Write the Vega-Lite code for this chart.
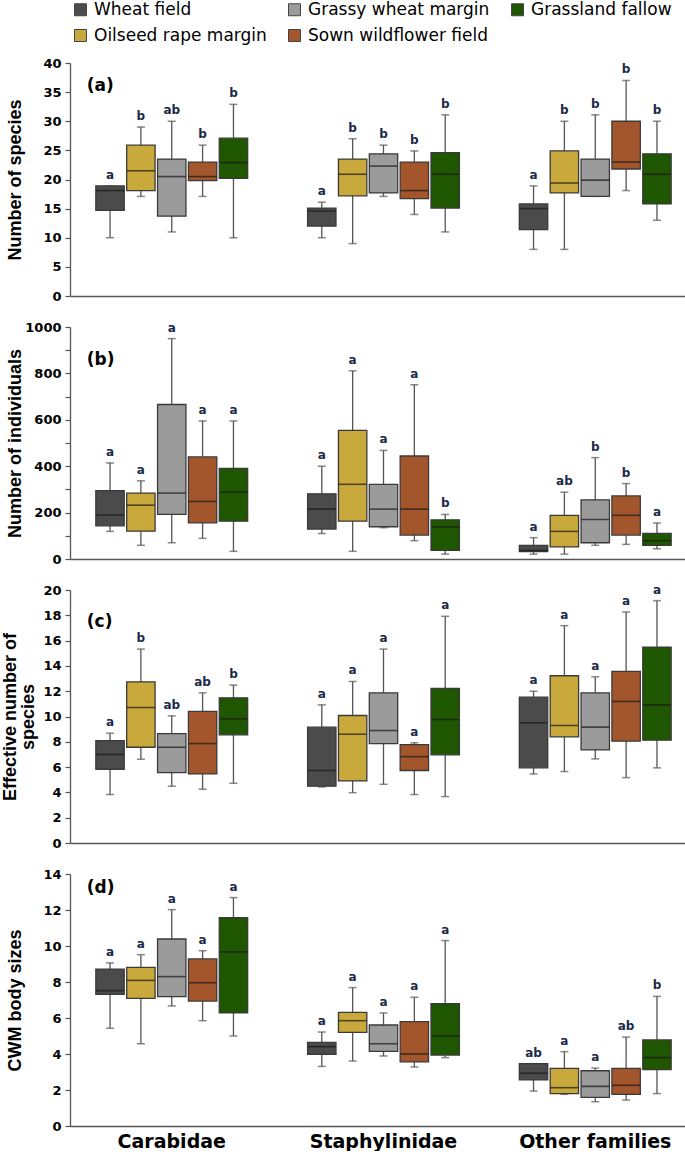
{
"$schema": "https://vega.github.io/schema/vega-lite/v6.json",
"padding": {"top": 1, "left": 0, "right": 0, "bottom": 0},
"autosize": {"type": "pad"},
"spacing": 31,
"bounds": "flush",
"resolve": {"legend": {"color": "independent"}},
"datasets": {
"boxes": [
{"panel":"a","family":"Carabidae","habitat":"Wheat field","lo":10,"q1":14.7,"med":18.1,"q3":18.9,"hi":18.9,"sig":"a"},
{"panel":"a","family":"Carabidae","habitat":"Oilseed rape margin","lo":17.1,"q1":18.1,"med":21.5,"q3":25.9,"hi":29,"sig":"b"},
{"panel":"a","family":"Carabidae","habitat":"Grassy wheat margin","lo":11,"q1":13.7,"med":20.5,"q3":23.5,"hi":30,"sig":"ab"},
{"panel":"a","family":"Carabidae","habitat":"Sown wildflower field","lo":17.1,"q1":19.8,"med":20.5,"q3":23,"hi":25.9,"sig":"b"},
{"panel":"a","family":"Carabidae","habitat":"Grassland fallow","lo":10,"q1":20.2,"med":22.9,"q3":27.1,"hi":32.9,"sig":"b"},
{"panel":"a","family":"Staphylinidae","habitat":"Wheat field","lo":10,"q1":12,"med":14.6,"q3":15.1,"hi":16.1,"sig":"a"},
{"panel":"a","family":"Staphylinidae","habitat":"Oilseed rape margin","lo":9,"q1":17.2,"med":20.9,"q3":23.5,"hi":27,"sig":"b"},
{"panel":"a","family":"Staphylinidae","habitat":"Grassy wheat margin","lo":17.1,"q1":17.7,"med":22.3,"q3":24.4,"hi":25.9,"sig":"b"},
{"panel":"a","family":"Staphylinidae","habitat":"Sown wildflower field","lo":14,"q1":16.7,"med":18.1,"q3":23,"hi":24.9,"sig":"b"},
{"panel":"a","family":"Staphylinidae","habitat":"Grassland fallow","lo":11,"q1":15.1,"med":20.9,"q3":24.6,"hi":31.1,"sig":"b"},
{"panel":"a","family":"Other families","habitat":"Wheat field","lo":8,"q1":11.4,"med":15,"q3":15.8,"hi":18.9,"sig":"a"},
{"panel":"a","family":"Other families","habitat":"Oilseed rape margin","lo":8,"q1":17.7,"med":19.4,"q3":24.9,"hi":30,"sig":"b"},
{"panel":"a","family":"Other families","habitat":"Grassy wheat margin","lo":17.1,"q1":17.1,"med":19.9,"q3":23.5,"hi":31.1,"sig":"b"},
{"panel":"a","family":"Other families","habitat":"Sown wildflower field","lo":18.1,"q1":21.8,"med":23,"q3":30,"hi":37,"sig":"b"},
{"panel":"a","family":"Other families","habitat":"Grassland fallow","lo":13,"q1":15.8,"med":20.9,"q3":24.4,"hi":30,"sig":"b"},
{"panel":"b","family":"Carabidae","habitat":"Wheat field","lo":119,"q1":143,"med":189,"q3":295,"hi":414,"sig":"a"},
{"panel":"b","family":"Carabidae","habitat":"Oilseed rape margin","lo":59,"q1":120,"med":232,"q3":284,"hi":337,"sig":"a"},
{"panel":"b","family":"Carabidae","habitat":"Grassy wheat margin","lo":70,"q1":192,"med":284,"q3":666,"hi":950,"sig":"a"},
{"panel":"b","family":"Carabidae","habitat":"Sown wildflower field","lo":89,"q1":156,"med":248,"q3":440,"hi":595,"sig":"a"},
{"panel":"b","family":"Carabidae","habitat":"Grassland fallow","lo":33,"q1":163,"med":288,"q3":391,"hi":595,"sig":"a"},
{"panel":"b","family":"Staphylinidae","habitat":"Wheat field","lo":110,"q1":129,"med":215,"q3":281,"hi":400,"sig":"a"},
{"panel":"b","family":"Staphylinidae","habitat":"Oilseed rape margin","lo":33,"q1":163,"med":322,"q3":554,"hi":811,"sig":"a"},
{"panel":"b","family":"Staphylinidae","habitat":"Grassy wheat margin","lo":135,"q1":139,"med":215,"q3":322,"hi":468,"sig":"a"},
{"panel":"b","family":"Staphylinidae","habitat":"Sown wildflower field","lo":79,"q1":103,"med":215,"q3":444,"hi":751,"sig":"a"},
{"panel":"b","family":"Staphylinidae","habitat":"Grassland fallow","lo":21,"q1":37,"med":138,"q3":169,"hi":192,"sig":"b"},
{"panel":"b","family":"Other families","habitat":"Wheat field","lo":21,"q1":32,"med":37,"q3":59,"hi":92,"sig":"a"},
{"panel":"b","family":"Other families","habitat":"Oilseed rape margin","lo":21,"q1":52,"med":119,"q3":188,"hi":288,"sig":"ab"},
{"panel":"b","family":"Other families","habitat":"Grassy wheat margin","lo":59,"q1":70,"med":170,"q3":255,"hi":437,"sig":"b"},
{"panel":"b","family":"Other families","habitat":"Sown wildflower field","lo":63,"q1":103,"med":188,"q3":272,"hi":325,"sig":"b"},
{"panel":"b","family":"Other families","habitat":"Grassland fallow","lo":44,"q1":59,"med":79,"q3":110,"hi":155,"sig":"a"},
{"panel":"c","family":"Carabidae","habitat":"Wheat field","lo":3.83,"q1":5.83,"med":7.0,"q3":8.1,"hi":8.68,"sig":"a"},
{"panel":"c","family":"Carabidae","habitat":"Oilseed rape margin","lo":6.62,"q1":7.57,"med":10.71,"q3":12.74,"hi":15.33,"sig":"b"},
{"panel":"c","family":"Carabidae","habitat":"Grassy wheat margin","lo":4.49,"q1":5.57,"med":7.57,"q3":8.65,"hi":10.05,"sig":"ab"},
{"panel":"c","family":"Carabidae","habitat":"Sown wildflower field","lo":4.25,"q1":5.46,"med":7.86,"q3":10.4,"hi":11.87,"sig":"ab"},
{"panel":"c","family":"Carabidae","habitat":"Grassland fallow","lo":4.72,"q1":8.55,"med":9.82,"q3":11.48,"hi":12.48,"sig":"b"},
{"panel":"c","family":"Staphylinidae","habitat":"Wheat field","lo":4.43,"q1":4.49,"med":5.73,"q3":9.16,"hi":10.92,"sig":"a"},
{"panel":"c","family":"Staphylinidae","habitat":"Oilseed rape margin","lo":3.98,"q1":4.91,"med":8.6,"q3":10.08,"hi":12.77,"sig":"a"},
{"panel":"c","family":"Staphylinidae","habitat":"Grassy wheat margin","lo":4.64,"q1":7.86,"med":8.89,"q3":11.87,"hi":15.33,"sig":"a"},
{"panel":"c","family":"Staphylinidae","habitat":"Sown wildflower field","lo":3.83,"q1":5.73,"med":6.83,"q3":7.78,"hi":7.92,"sig":"a"},
{"panel":"c","family":"Staphylinidae","habitat":"Grassland fallow","lo":3.67,"q1":6.97,"med":9.76,"q3":12.22,"hi":17.92,"sig":"a"},
{"panel":"c","family":"Other families","habitat":"Wheat field","lo":5.46,"q1":5.94,"med":9.5,"q3":11.53,"hi":12.0,"sig":"a"},
{"panel":"c","family":"Other families","habitat":"Oilseed rape margin","lo":5.65,"q1":8.39,"med":9.29,"q3":13.22,"hi":17.18,"sig":"a"},
{"panel":"c","family":"Other families","habitat":"Grassy wheat margin","lo":6.65,"q1":7.36,"med":9.16,"q3":11.87,"hi":13.14,"sig":"a"},
{"panel":"c","family":"Other families","habitat":"Sown wildflower field","lo":5.17,"q1":8.05,"med":11.19,"q3":13.56,"hi":18.26,"sig":"a"},
{"panel":"c","family":"Other families","habitat":"Grassland fallow","lo":5.94,"q1":8.13,"med":10.92,"q3":15.49,"hi":19.16,"sig":"a"},
{"panel":"d","family":"Carabidae","habitat":"Wheat field","lo":5.43,"q1":7.31,"med":7.52,"q3":8.72,"hi":9.06,"sig":"a"},
{"panel":"d","family":"Carabidae","habitat":"Oilseed rape margin","lo":4.57,"q1":7.09,"med":8.09,"q3":8.81,"hi":9.52,"sig":"a"},
{"panel":"d","family":"Carabidae","habitat":"Grassy wheat margin","lo":6.67,"q1":7.19,"med":8.3,"q3":10.39,"hi":12.02,"sig":"a"},
{"panel":"d","family":"Carabidae","habitat":"Sown wildflower field","lo":5.85,"q1":6.94,"med":7.96,"q3":9.28,"hi":9.74,"sig":"a"},
{"panel":"d","family":"Carabidae","habitat":"Grassland fallow","lo":5.0,"q1":6.28,"med":9.67,"q3":11.57,"hi":12.69,"sig":"a"},
{"panel":"d","family":"Staphylinidae","habitat":"Wheat field","lo":3.31,"q1":3.98,"med":4.41,"q3":4.65,"hi":5.22,"sig":"a"},
{"panel":"d","family":"Staphylinidae","habitat":"Oilseed rape margin","lo":3.61,"q1":5.2,"med":5.85,"q3":6.31,"hi":7.69,"sig":"a"},
{"panel":"d","family":"Staphylinidae","habitat":"Grassy wheat margin","lo":3.89,"q1":4.15,"med":4.57,"q3":5.61,"hi":6.28,"sig":"a"},
{"panel":"d","family":"Staphylinidae","habitat":"Sown wildflower field","lo":3.28,"q1":3.56,"med":4.0,"q3":5.8,"hi":7.15,"sig":"a"},
{"panel":"d","family":"Staphylinidae","habitat":"Grassland fallow","lo":3.8,"q1":3.94,"med":5.0,"q3":6.8,"hi":10.3,"sig":"a"},
{"panel":"d","family":"Other families","habitat":"Wheat field","lo":1.94,"q1":2.56,"med":2.93,"q3":3.46,"hi":3.46,"sig":"ab"},
{"panel":"d","family":"Other families","habitat":"Oilseed rape margin","lo":1.76,"q1":1.8,"med":2.13,"q3":3.2,"hi":4.13,"sig":"a"},
{"panel":"d","family":"Other families","habitat":"Grassy wheat margin","lo":1.35,"q1":1.59,"med":2.2,"q3":3.07,"hi":3.22,"sig":"a"},
{"panel":"d","family":"Other families","habitat":"Sown wildflower field","lo":1.44,"q1":1.76,"med":2.26,"q3":3.2,"hi":4.94,"sig":"ab"},
{"panel":"d","family":"Other families","habitat":"Grassland fallow","lo":1.8,"q1":3.13,"med":3.8,"q3":4.78,"hi":7.2,"sig":"b"}
]
},
"vconcat": [
{
"width": 627, "height": 233,
"data": {"name": "boxes"},
"transform": [{"filter": "datum.panel === 'a'"}],
"encoding": {
"x": {"field": "family", "type": "nominal", "sort": ["Carabidae","Staphylinidae","Other families"], "scale": {"domain": ["Carabidae","Staphylinidae","Other families"], "paddingInner": 0.283, "paddingOuter": 0.122}, "axis": {"title": null, "labels": false, "ticks": false}},
"xOffset": {"field": "habitat", "type": "nominal", "scale": {"domain": ["Wheat field","Oilseed rape margin","Grassy wheat margin","Sown wildflower field","Grassland fallow"], "paddingInner": 0.08, "paddingOuter": 0}}
},
"layer": [
{"mark": {"type": "rule", "color": "#555", "strokeWidth": 1.3}, "encoding": {"y": {"field": "lo", "type": "quantitative", "scale": {"domain": [0,40], "nice": false}, "axis": {"title": "Number of species", "titleX": -46, "values": [0,5,10,15,20,25,30,35,40]}}, "y2": {"field": "hi"}}},
{"mark": {"type": "tick", "color": "#555", "size": 8, "thickness": 1.5}, "encoding": {"y": {"field": "hi", "type": "quantitative", "scale": {"domain": [0,40], "nice": false}, "axis": {"title": "Number of species", "titleX": -46, "values": [0,5,10,15,20,25,30,35,40]}}}},
{"mark": {"type": "tick", "color": "#555", "size": 8, "thickness": 1.5}, "encoding": {"y": {"field": "lo", "type": "quantitative", "scale": {"domain": [0,40], "nice": false}, "axis": {"title": "Number of species", "titleX": -46, "values": [0,5,10,15,20,25,30,35,40]}}}},
{"mark": {"type": "bar", "stroke": "#3a3a3a", "strokeWidth": 1.3}, "encoding": {"y": {"field": "q1", "type": "quantitative", "scale": {"domain": [0,40], "nice": false}, "axis": {"title": "Number of species", "titleX": -46, "values": [0,5,10,15,20,25,30,35,40]}}, "y2": {"field": "q3"},
 "color": {"field": "habitat", "type": "nominal", "scale": {"domain": ["Wheat field","Grassy wheat margin","Grassland fallow","Oilseed rape margin","Sown wildflower field"], "range": ["#4b4b4b","#9b9b9b","#1f5600","#c9a93b","#a3562c"]},
  "legend": {"orient": "none", "legendX": 2, "legendY": -62, "direction": "horizontal", "columns": 3, "title": null, "symbolType": "square", "symbolSize": 144, "symbolStrokeColor": "#444", "symbolStrokeWidth": 1, "symbolOpacity": 1, "labelFont": "DejaVu Sans", "labelFontSize": 17, "labelColor": "#000", "labelOffset": 5, "columnPadding": 19, "rowPadding": 8, "labelLimit": 300}}}},
{"mark": {"type": "tick", "color": "#1a1a1a", "size": 28, "thickness": 1.6}, "encoding": {"y": {"field": "med", "type": "quantitative", "scale": {"domain": [0,40], "nice": false}, "axis": {"title": "Number of species", "titleX": -46, "values": [0,5,10,15,20,25,30,35,40]}}}},
{"mark": {"type": "text", "baseline": "bottom", "dy": -4, "font": "DejaVu Sans", "fontWeight": "bold", "fontSize": 12, "color": "#1a2a48"}, "encoding": {"y": {"field": "hi", "type": "quantitative", "scale": {"domain": [0,40], "nice": false}, "axis": {"title": "Number of species", "titleX": -46, "values": [0,5,10,15,20,25,30,35,40]}}, "text": {"field": "sig"}}},
{"transform": [{"filter": "datum.family === 'Carabidae' && datum.habitat === 'Wheat field'"}],
 "mark": {"type": "text", "align": "left", "baseline": "middle", "dx": -9, "font": "DejaVu Sans", "fontWeight": "bold", "fontSize": 17, "color": "#000"},
 "encoding": {"x": {"datum": "Carabidae", "bandPosition": 0}, "xOffset": {"value": 0}, "y": {"datum": 36, "type": "quantitative", "scale": {"domain": [0,40], "nice": false}, "axis": {"title": "Number of species", "titleX": -46, "values": [0,5,10,15,20,25,30,35,40]}}, "text": {"value": "(a)"}}}
]
},
{
"width": 627, "height": 232,
"data": {"name": "boxes"},
"transform": [{"filter": "datum.panel === 'b'"}],
"encoding": {
"x": {"field": "family", "type": "nominal", "sort": ["Carabidae","Staphylinidae","Other families"], "scale": {"domain": ["Carabidae","Staphylinidae","Other families"], "paddingInner": 0.283, "paddingOuter": 0.122}, "axis": {"title": null, "labels": false, "ticks": false}},
"xOffset": {"field": "habitat", "type": "nominal", "scale": {"domain": ["Wheat field","Oilseed rape margin","Grassy wheat margin","Sown wildflower field","Grassland fallow"], "paddingInner": 0.08, "paddingOuter": 0}}
},
"layer": [
{"mark": {"type": "rule", "color": "#555", "strokeWidth": 1.3}, "encoding": {"y": {"field": "lo", "type": "quantitative", "scale": {"domain": [0,1000], "nice": false}, "axis": {"title": "Number of individuals", "titleX": -46, "format": "d", "values": [0,100,200,300,400,500,600,700,800,900,1000], "labelExpr": "datum.value % 200 === 0 ? datum.label : ''"}}, "y2": {"field": "hi"}}},
{"mark": {"type": "tick", "color": "#555", "size": 8, "thickness": 1.5}, "encoding": {"y": {"field": "hi", "type": "quantitative", "scale": {"domain": [0,1000], "nice": false}, "axis": {"title": "Number of individuals", "titleX": -46, "format": "d", "values": [0,100,200,300,400,500,600,700,800,900,1000], "labelExpr": "datum.value % 200 === 0 ? datum.label : ''"}}}},
{"mark": {"type": "tick", "color": "#555", "size": 8, "thickness": 1.5}, "encoding": {"y": {"field": "lo", "type": "quantitative", "scale": {"domain": [0,1000], "nice": false}, "axis": {"title": "Number of individuals", "titleX": -46, "format": "d", "values": [0,100,200,300,400,500,600,700,800,900,1000], "labelExpr": "datum.value % 200 === 0 ? datum.label : ''"}}}},
{"mark": {"type": "bar", "stroke": "#3a3a3a", "strokeWidth": 1.3}, "encoding": {"y": {"field": "q1", "type": "quantitative", "scale": {"domain": [0,1000], "nice": false}, "axis": {"title": "Number of individuals", "titleX": -46, "format": "d", "values": [0,100,200,300,400,500,600,700,800,900,1000], "labelExpr": "datum.value % 200 === 0 ? datum.label : ''"}}, "y2": {"field": "q3"},
 "color": {"field": "habitat", "type": "nominal", "scale": {"domain": ["Wheat field","Grassy wheat margin","Grassland fallow","Oilseed rape margin","Sown wildflower field"], "range": ["#4b4b4b","#9b9b9b","#1f5600","#c9a93b","#a3562c"]}, "legend": null}}},
{"mark": {"type": "tick", "color": "#1a1a1a", "size": 28, "thickness": 1.6}, "encoding": {"y": {"field": "med", "type": "quantitative", "scale": {"domain": [0,1000], "nice": false}, "axis": {"title": "Number of individuals", "titleX": -46, "format": "d", "values": [0,100,200,300,400,500,600,700,800,900,1000], "labelExpr": "datum.value % 200 === 0 ? datum.label : ''"}}}},
{"mark": {"type": "text", "baseline": "bottom", "dy": -4, "font": "DejaVu Sans", "fontWeight": "bold", "fontSize": 12, "color": "#1a2a48"}, "encoding": {"y": {"field": "hi", "type": "quantitative", "scale": {"domain": [0,1000], "nice": false}, "axis": {"title": "Number of individuals", "titleX": -46, "format": "d", "values": [0,100,200,300,400,500,600,700,800,900,1000], "labelExpr": "datum.value % 200 === 0 ? datum.label : ''"}}, "text": {"field": "sig"}}},
{"transform": [{"filter": "datum.family === 'Carabidae' && datum.habitat === 'Wheat field'"}],
 "mark": {"type": "text", "align": "left", "baseline": "middle", "dx": -9, "font": "DejaVu Sans", "fontWeight": "bold", "fontSize": 17, "color": "#000"},
 "encoding": {"x": {"datum": "Carabidae", "bandPosition": 0}, "xOffset": {"value": 0}, "y": {"datum": 858, "type": "quantitative", "scale": {"domain": [0,1000], "nice": false}, "axis": {"title": "Number of individuals", "titleX": -46, "format": "d", "values": [0,100,200,300,400,500,600,700,800,900,1000], "labelExpr": "datum.value % 200 === 0 ? datum.label : ''"}}, "text": {"value": "(b)"}}}
]
},
{
"width": 627, "height": 253,
"data": {"name": "boxes"},
"transform": [{"filter": "datum.panel === 'c'"}],
"encoding": {
"x": {"field": "family", "type": "nominal", "sort": ["Carabidae","Staphylinidae","Other families"], "scale": {"domain": ["Carabidae","Staphylinidae","Other families"], "paddingInner": 0.283, "paddingOuter": 0.122}, "axis": {"title": null, "labels": false, "ticks": false}},
"xOffset": {"field": "habitat", "type": "nominal", "scale": {"domain": ["Wheat field","Oilseed rape margin","Grassy wheat margin","Sown wildflower field","Grassland fallow"], "paddingInner": 0.08, "paddingOuter": 0}}
},
"layer": [
{"mark": {"type": "rule", "color": "#555", "strokeWidth": 1.3}, "encoding": {"y": {"field": "lo", "type": "quantitative", "scale": {"domain": [0,20], "nice": false}, "axis": {"title": ["Effective number of","species"], "titleX": -51, "titleLineHeight": 18, "values": [0,2,4,6,8,10,12,14,16,18,20]}}, "y2": {"field": "hi"}}},
{"mark": {"type": "tick", "color": "#555", "size": 8, "thickness": 1.5}, "encoding": {"y": {"field": "hi", "type": "quantitative", "scale": {"domain": [0,20], "nice": false}, "axis": {"title": ["Effective number of","species"], "titleX": -51, "titleLineHeight": 18, "values": [0,2,4,6,8,10,12,14,16,18,20]}}}},
{"mark": {"type": "tick", "color": "#555", "size": 8, "thickness": 1.5}, "encoding": {"y": {"field": "lo", "type": "quantitative", "scale": {"domain": [0,20], "nice": false}, "axis": {"title": ["Effective number of","species"], "titleX": -51, "titleLineHeight": 18, "values": [0,2,4,6,8,10,12,14,16,18,20]}}}},
{"mark": {"type": "bar", "stroke": "#3a3a3a", "strokeWidth": 1.3}, "encoding": {"y": {"field": "q1", "type": "quantitative", "scale": {"domain": [0,20], "nice": false}, "axis": {"title": ["Effective number of","species"], "titleX": -51, "titleLineHeight": 18, "values": [0,2,4,6,8,10,12,14,16,18,20]}}, "y2": {"field": "q3"},
 "color": {"field": "habitat", "type": "nominal", "scale": {"domain": ["Wheat field","Grassy wheat margin","Grassland fallow","Oilseed rape margin","Sown wildflower field"], "range": ["#4b4b4b","#8e8e8e","#1f5600","#c9a93b","#a3562c"]}, "legend": null}}},
{"mark": {"type": "tick", "color": "#1a1a1a", "size": 28, "thickness": 1.6}, "encoding": {"y": {"field": "med", "type": "quantitative", "scale": {"domain": [0,20], "nice": false}, "axis": {"title": ["Effective number of","species"], "titleX": -51, "titleLineHeight": 18, "values": [0,2,4,6,8,10,12,14,16,18,20]}}}},
{"mark": {"type": "text", "baseline": "bottom", "dy": -4, "font": "DejaVu Sans", "fontWeight": "bold", "fontSize": 12, "color": "#1a2a48"}, "encoding": {"y": {"field": "hi", "type": "quantitative", "scale": {"domain": [0,20], "nice": false}, "axis": {"title": ["Effective number of","species"], "titleX": -51, "titleLineHeight": 18, "values": [0,2,4,6,8,10,12,14,16,18,20]}}, "text": {"field": "sig"}}},
{"transform": [{"filter": "datum.family === 'Carabidae' && datum.habitat === 'Wheat field'"}],
 "mark": {"type": "text", "align": "left", "baseline": "middle", "dx": -9, "font": "DejaVu Sans", "fontWeight": "bold", "fontSize": 17, "color": "#000"},
 "encoding": {"x": {"datum": "Carabidae", "bandPosition": 0}, "xOffset": {"value": 0}, "y": {"datum": 17.5, "type": "quantitative", "scale": {"domain": [0,20], "nice": false}, "axis": {"title": ["Effective number of","species"], "titleX": -51, "titleLineHeight": 18, "values": [0,2,4,6,8,10,12,14,16,18,20]}}, "text": {"value": "(c)"}}}
]
},
{
"width": 627, "height": 252,
"data": {"name": "boxes"},
"transform": [{"filter": "datum.panel === 'd'"}],
"encoding": {
"x": {"field": "family", "type": "nominal", "sort": ["Carabidae","Staphylinidae","Other families"], "scale": {"domain": ["Carabidae","Staphylinidae","Other families"], "paddingInner": 0.283, "paddingOuter": 0.122}, "axis": {"title": null, "labels": true, "ticks": false, "tickSize": 0, "labelAngle": 0, "labelPadding": 6, "labelFontSize": 19, "labelBaseline": "top"}},
"xOffset": {"field": "habitat", "type": "nominal", "scale": {"domain": ["Wheat field","Oilseed rape margin","Grassy wheat margin","Sown wildflower field","Grassland fallow"], "paddingInner": 0.08, "paddingOuter": 0}}
},
"layer": [
{"mark": {"type": "rule", "color": "#555", "strokeWidth": 1.3}, "encoding": {"y": {"field": "lo", "type": "quantitative", "scale": {"domain": [0,14], "nice": false}, "axis": {"title": "CWM body sizes", "titleX": -46, "values": [0,2,4,6,8,10,12,14]}}, "y2": {"field": "hi"}}},
{"mark": {"type": "tick", "color": "#555", "size": 8, "thickness": 1.5}, "encoding": {"y": {"field": "hi", "type": "quantitative", "scale": {"domain": [0,14], "nice": false}, "axis": {"title": "CWM body sizes", "titleX": -46, "values": [0,2,4,6,8,10,12,14]}}}},
{"mark": {"type": "tick", "color": "#555", "size": 8, "thickness": 1.5}, "encoding": {"y": {"field": "lo", "type": "quantitative", "scale": {"domain": [0,14], "nice": false}, "axis": {"title": "CWM body sizes", "titleX": -46, "values": [0,2,4,6,8,10,12,14]}}}},
{"mark": {"type": "bar", "stroke": "#3a3a3a", "strokeWidth": 1.3}, "encoding": {"y": {"field": "q1", "type": "quantitative", "scale": {"domain": [0,14], "nice": false}, "axis": {"title": "CWM body sizes", "titleX": -46, "values": [0,2,4,6,8,10,12,14]}}, "y2": {"field": "q3"},
 "color": {"field": "habitat", "type": "nominal", "scale": {"domain": ["Wheat field","Grassy wheat margin","Grassland fallow","Oilseed rape margin","Sown wildflower field"], "range": ["#4b4b4b","#8e8e8e","#1f5600","#c9a93b","#a3562c"]}, "legend": null}}},
{"mark": {"type": "tick", "color": "#1a1a1a", "size": 28, "thickness": 1.6}, "encoding": {"y": {"field": "med", "type": "quantitative", "scale": {"domain": [0,14], "nice": false}, "axis": {"title": "CWM body sizes", "titleX": -46, "values": [0,2,4,6,8,10,12,14]}}}},
{"mark": {"type": "text", "baseline": "bottom", "dy": -4, "font": "DejaVu Sans", "fontWeight": "bold", "fontSize": 12, "color": "#1a2a48"}, "encoding": {"y": {"field": "hi", "type": "quantitative", "scale": {"domain": [0,14], "nice": false}, "axis": {"title": "CWM body sizes", "titleX": -46, "values": [0,2,4,6,8,10,12,14]}}, "text": {"field": "sig"}}},
{"transform": [{"filter": "datum.family === 'Carabidae' && datum.habitat === 'Wheat field'"}],
 "mark": {"type": "text", "align": "left", "baseline": "middle", "dx": -9, "font": "DejaVu Sans", "fontWeight": "bold", "fontSize": 17, "color": "#000"},
 "encoding": {"x": {"datum": "Carabidae", "bandPosition": 0}, "xOffset": {"value": 0}, "y": {"datum": 13.2, "type": "quantitative", "scale": {"domain": [0,14], "nice": false}, "axis": {"title": "CWM body sizes", "titleX": -46, "values": [0,2,4,6,8,10,12,14]}}, "text": {"value": "(d)"}}}
]
}
],
"config": {
"view": {"stroke": null},
"axis": {"grid": false, "domainColor": "#555", "domainWidth": 1.3, "tickColor": "#555", "tickWidth": 1.2, "tickSize": 5, "labelPadding": 4, "labelFont": "DejaVu Sans", "labelFontWeight": "bold", "labelFontSize": 13, "labelColor": "#000", "titleFont": "Liberation Sans", "titleFontWeight": "bold", "titleFontSize": 18, "titleColor": "#000"}
}
}
